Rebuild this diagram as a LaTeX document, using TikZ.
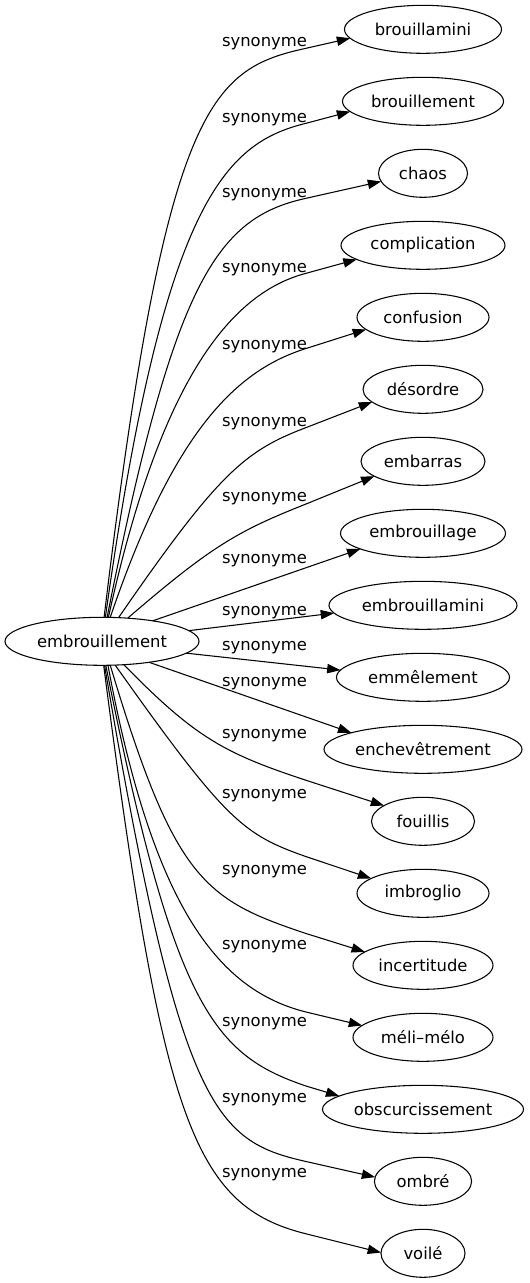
\documentclass[tikz,border=0pt]{standalone}
\usepackage{fontspec}
\setmainfont{DejaVu Sans}
\usetikzlibrary{shapes.geometric,arrows.meta,calc}
\tikzset{
  gfont/.style={font=\fontsize{12.3pt}{14pt}\selectfont},
  nd/.style={gfont, draw, ellipse, line width=0.8pt, inner sep=0pt, outer sep=0pt, minimum height=36pt},
  lab/.style={gfont, anchor=base, inner sep=0pt},
  edge/.style={line width=0.8pt, -{Triangle[length=10pt,width=7pt]}}
}
% #1 start, #2 corner, #3 middle point, #4 end, #5 #6 control factors
\newcommand\gcurve[6]{\draw[edge] (#1) .. controls ($(#1)!#5!(#2)$) and ($(#3)!#6!(#2)$) .. (#3) -- (#4);}
\begin{document}
\begin{tikzpicture}[x=0.75pt,y=-0.75pt]
\useasboundingbox (0,0) rectangle (529,1283);
% nodes
\node[nd, minimum width=145.5pt] (src) at (102,641.3) {embrouillement};
\node[nd, minimum width=117.75pt] (t1) at (423,29.3) {brouillamini};
\node[nd, minimum width=120.75pt] (t2) at (423,101.3) {brouillement};
\node[nd, minimum width=66.75pt] (t3) at (423,173.3) {chaos};
\node[nd, minimum width=123pt] (t4) at (423,245.3) {complication};
\node[nd, minimum width=99pt] (t5) at (423,317.3) {confusion};
\node[nd, minimum width=90pt] (t6) at (423,389.3) {désordre};
\node[nd, minimum width=93pt] (t7) at (423,461.3) {embarras};
\node[nd, minimum width=123.75pt] (t8) at (423,533.3) {embrouillage};
\node[nd, minimum width=141pt] (t9) at (423,605.3) {embrouillamini};
\node[nd, minimum width=129.75pt] (t10) at (423,677.3) {emmêlement};
\node[nd, minimum width=148.5pt] (t11) at (423,749.3) {enchevêtrement};
\node[nd, minimum width=77.25pt] (t12) at (423,821.3) {fouillis};
\node[nd, minimum width=99pt] (t13) at (423,893.3) {imbroglio};
\node[nd, minimum width=105pt] (t14) at (423,965.3) {incertitude};
\node[nd, minimum width=105pt] (t15) at (423,1037.3) {méli–mélo};
\node[nd, minimum width=150.75pt] (t16) at (423,1109.3) {obscurcissement};
\node[nd, minimum width=72.9pt] (t17) at (423,1181.3) {ombré};
\node[nd, minimum width=63pt] (t18) at (423,1253.3) {voilé};
% labels
\node[lab] (l1) at (264.5,46.2) {synonyme};
\node[lab] (l2) at (264.5,122.8) {synonyme};
\node[lab] (l3) at (264.5,197.2) {synonyme};
\node[lab] (l4) at (264.5,272.8) {synonyme};
\node[lab] (l5) at (264.5,349.5) {synonyme};
\node[lab] (l6) at (264.5,426.2) {synonyme};
\node[lab] (l7) at (264.5,501.2) {synonyme};
\node[lab] (l8) at (264.5,563.8) {synonyme};
\node[lab] (l9) at (264.5,615) {synonyme};
\node[lab] (l10) at (264.5,650.5) {synonyme};
\node[lab] (l11) at (264.5,686.2) {synonyme};
\node[lab] (l12) at (264.5,738.8) {synonyme};
\node[lab] (l13) at (264.5,798.5) {synonyme};
\node[lab] (l14) at (264.5,874.5) {synonyme};
\node[lab] (l15) at (264.5,949.5) {synonyme};
\node[lab] (l16) at (264.5,1026.2) {synonyme};
\node[lab] (l17) at (264.5,1102.2) {synonyme};
\node[lab] (l18) at (264.5,1177.8) {synonyme};
% edges
\gcurve{src.85}{168.8,78.1}{306,48.3}{t1.187.4}{0.95}{0.7}
\gcurve{src.82}{169.9,156.5}{306,123.3}{t2.188.9}{0.9}{0.6}
\gcurve{src.78.7}{185.3,224.6}{306,198.3}{t3.191.7}{0.85}{0.75}
\gcurve{src.75.7}{176.3,307.3}{306,273.3}{t4.192.6}{0.75}{0.6}
\gcurve{src.71}{189.2,385.1}{306,348.5}{t5.192.4}{0.8}{0.6}
\gcurve{src.55}{229.7,456.5}{306,427.6}{t6.194.6}{0.9}{0.8}
\gcurve{src.42}{221.2,537.6}{306,504}{t7.197.8}{0.9}{0.8}
\draw[edge] (src.22) -- (t8.194.4);
\draw[edge] (src.7.7) -- (t9.185.6);
\draw[edge] (src.-8.4) -- (t10.175.3);
\draw[edge] (src.-24) -- (t11.167.6);
\gcurve{src.-47}{204,746.5}{306.7,780.5}{t12.158.9}{0.9}{0.8}
\gcurve{src.-61}{232.4,830.5}{306,856.6}{t13.164.9}{0.95}{0.85}
\gcurve{src.-71}{177.9,890.7}{306,933.5}{t14.167.9}{0.95}{0.8}
\gcurve{src.-76.8}{165.8,976.7}{306,1012}{t15.169.4}{0.8}{0.6}
\gcurve{src.-81}{181.5,1043.9}{306,1086}{t16.171.8}{0.9}{0.75}
\gcurve{src.-84}{184.2,1133.9}{306,1161.5}{t17.175.2}{0.95}{0.75}
\gcurve{src.-86.8}{172.9,1200.7}{306,1233.8}{t18.179}{0.85}{0.85}
\end{tikzpicture}
\end{document}
